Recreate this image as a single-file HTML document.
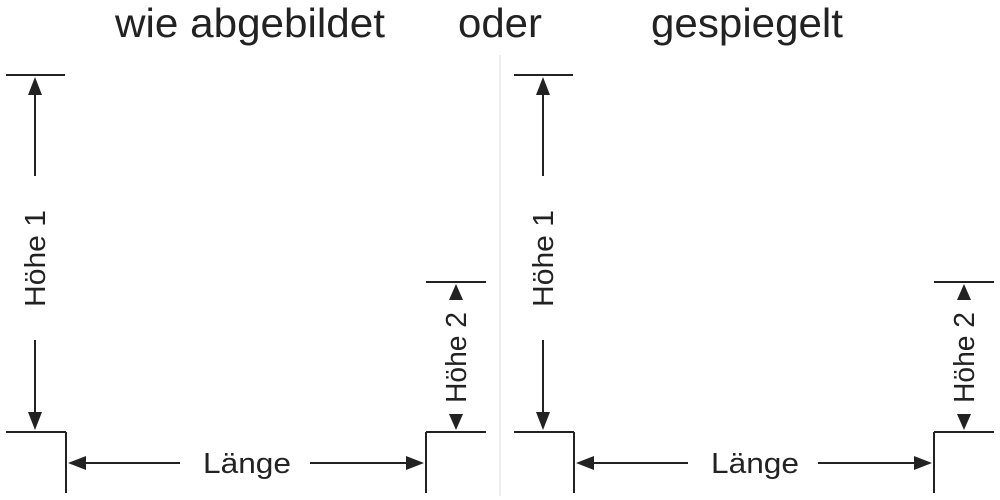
<!DOCTYPE html>
<html><head><meta charset="utf-8"><style>html,body{margin:0;padding:0;background:#fff}svg{display:block}</style></head>
<body>
<svg width="1000" height="500" viewBox="0 0 1000 500" xmlns="http://www.w3.org/2000/svg" font-family="Liberation Sans, Arial, sans-serif" fill="#222">
<defs>
<g id="panel" stroke="#222" stroke-width="2" fill="none">
  <line x1="6" y1="75" x2="65" y2="75"/>
  <line x1="6" y1="432" x2="66" y2="432"/>
  <line x1="66" y1="432" x2="66" y2="493"/>
  <line x1="35" y1="92" x2="35" y2="176"/>
  <line x1="35" y1="340" x2="35" y2="416"/>
  <line x1="426" y1="282" x2="486" y2="282"/>
  <line x1="426" y1="432" x2="486" y2="432"/>
  <line x1="426" y1="432" x2="426" y2="493"/>
  <line x1="82" y1="463" x2="180" y2="463"/>
  <line x1="310" y1="463" x2="410" y2="463"/>
  <g fill="#222" stroke="none">
    <polygon points="35,77 28,95 42,95"/>
    <polygon points="35,430 28,412 42,412"/>
    <polygon points="456,284 449,300 463,300"/>
    <polygon points="456,430 449,414 463,414"/>
    <polygon points="68,463 86,456 86,470"/>
    <polygon points="424,463 406,456 406,470"/>
  </g>
  <g fill="#222" stroke="none" font-size="29">
    <text x="203" y="473" textLength="88" lengthAdjust="spacingAndGlyphs">Länge</text>
    <text transform="translate(45,307) rotate(-90)" textLength="97" lengthAdjust="spacingAndGlyphs">Höhe 1</text>
    <text transform="translate(466,403) rotate(-90)" textLength="91" lengthAdjust="spacingAndGlyphs">Höhe 2</text>
  </g>
</g>
</defs>
<g font-size="41">
<text x="115" y="37" textLength="270" lengthAdjust="spacingAndGlyphs">wie abgebildet</text>
<text x="458" y="37" textLength="84" lengthAdjust="spacingAndGlyphs">oder</text>
<text x="651" y="37" textLength="192" lengthAdjust="spacingAndGlyphs">gespiegelt</text>
</g>
<line x1="500" y1="55" x2="500" y2="496" stroke="#ddd" stroke-width="1"/>
<use href="#panel"/>
<use href="#panel" transform="translate(508,0)"/>
</svg>
</body></html>
